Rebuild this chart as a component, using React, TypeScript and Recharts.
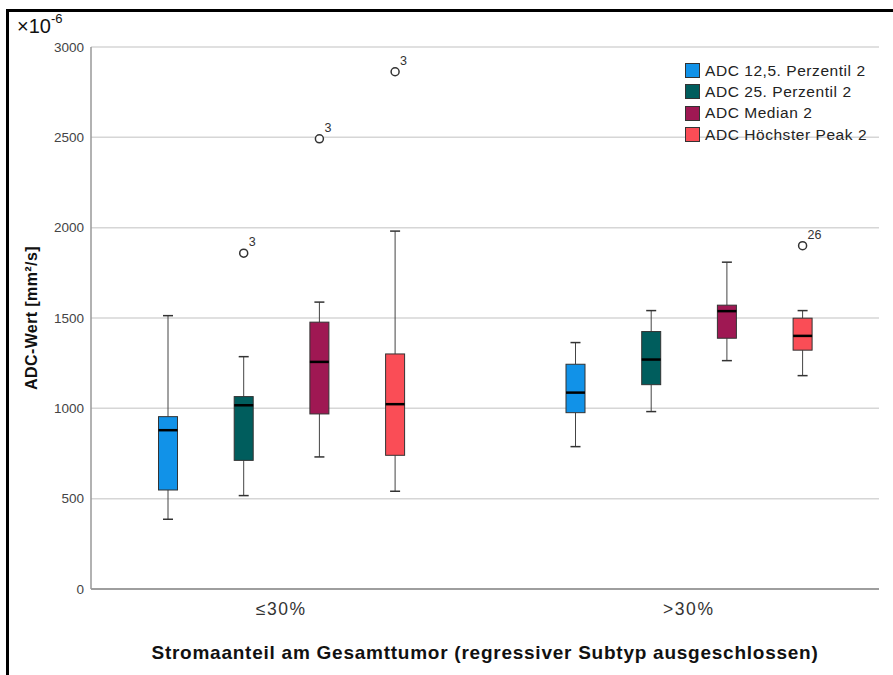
import { BarChart, Bar, XAxis, YAxis, CartesianGrid } from "recharts";

const categories = ["≤30%", ">30%"];
const seriesNames = [
  "ADC 12,5. Perzentil 2",
  "ADC 25. Perzentil 2",
  "ADC Median 2",
  "ADC Höchster Peak 2",
];
const seriesColors = ["#1192e8", "#005d5d", "#9f1853", "#fa4d56"];
const yTicks = [0, 500, 1000, 1500, 2000, 2500, 3000];

// one entry per series, each [≤30%, >30%]
const whiskerLow = [[386, 788], [517, 982], [731, 1264], [541, 1181]];
const q1 = [[548, 976], [712, 1131], [969, 1388], [740, 1322]];
const median = [[879, 1087], [1017, 1270], [1257, 1538], [1023, 1401]];
const q3 = [[954, 1244], [1065, 1425], [1477, 1571], [1301, 1499]];
const whiskerHigh = [[1513, 1364], [1286, 1541], [1588, 1809], [1981, 1541]];
const outlierValues = [[[], []], [[1859], []], [[2492], []], [[2863], [1900]]];
const outlierLabels = [[[], []], [["3"], []], [["3"], []], [["3"], ["26"]]];

const FONT = "'Liberation Sans', Arial, sans-serif";

const topOf = (s: number, c: number) =>
  Math.max(whiskerHigh[s][c], ...outlierValues[s][c]);

const data = categories.map((name, c) => {
  const row: Record<string, any> = { name };
  seriesNames.forEach((_, s) => {
    row[`s${s}`] = [whiskerLow[s][c], topOf(s, c)];
  });
  return row;
});

const boxShape = (s: number) => (props: any) => {
  const { x, y, width, height, index } = props;
  const lo = whiskerLow[s][index];
  const hi = topOf(s, index);
  const py = (v: number) => y + (height * (hi - v)) / (hi - lo);
  const cx = x + width / 2;
  const cap = 5;
  return (
    <g>
      <line x1={cx} x2={cx} y1={py(whiskerHigh[s][index])} y2={py(q3[s][index])} stroke="#444" />
      <line x1={cx} x2={cx} y1={py(q1[s][index])} y2={py(lo)} stroke="#444" />
      <line x1={cx - cap} x2={cx + cap} y1={py(whiskerHigh[s][index])} y2={py(whiskerHigh[s][index])} stroke="#333" strokeWidth={1.5} />
      <line x1={cx - cap} x2={cx + cap} y1={py(lo)} y2={py(lo)} stroke="#333" strokeWidth={1.5} />
      <rect
        x={x}
        y={py(q3[s][index])}
        width={width}
        height={py(q1[s][index]) - py(q3[s][index])}
        fill={seriesColors[s]}
        stroke="#333"
        strokeWidth={1}
      />
      <line x1={x} x2={x + width} y1={py(median[s][index])} y2={py(median[s][index])} stroke="#000" strokeWidth={2.5} />
      {outlierValues[s][index].map((v, k) => (
        <g key={k}>
          <circle cx={cx} cy={py(v)} r={4} fill="#fff" stroke="#333" strokeWidth={1.5} />
          <text x={cx + 5} y={py(v) - 7} fontSize={12.5} fill="#333" fontFamily={FONT}>
            {outlierLabels[s][index][k]}
          </text>
        </g>
      ))}
    </g>
  );
};

export default function App() {
  return (
    <div
      style={{
        position: "absolute",
        left: 0,
        top: 0,
        width: 893,
        height: 675,
        overflow: "hidden",
        background: "#fff",
        fontFamily: FONT,
      }}
    >
      <div
        style={{
          position: "absolute",
          left: 6,
          top: 9,
          width: 1000,
          height: 1000,
          borderLeft: "3px solid #000",
          borderTop: "3px solid #000",
        }}
      />
      <BarChart
        width={893}
        height={675}
        data={data}
        margin={{ top: 47, right: 14, bottom: 0, left: 0 }}
        barSize={19}
        barGap={56.7}
        style={{ position: "absolute", left: 0, top: 0 }}
      >
        <CartesianGrid vertical={false} stroke="#d6d6d6" strokeWidth={1.5} />
        <XAxis
          dataKey="name"
          height={86}
          padding={{ left: -13.5, right: -13.5 }}
          axisLine={{ stroke: "#888", strokeWidth: 1.5 }}
          tickLine={false}
          tickMargin={8}
          tick={{ fill: "#333", fontSize: 17.5, fontFamily: FONT, letterSpacing: 1.6 }}
          label={{
            value: "Stromaanteil am Gesamttumor (regressiver Subtyp ausgeschlossen)",
            position: "insideBottom",
            offset: 16,
            fill: "#111",
            fontSize: 19,
            fontWeight: "bold",
            fontFamily: FONT,
            letterSpacing: 0.75,
          }}
        />
        <YAxis
          width={91}
          domain={[0, 3000]}
          ticks={yTicks}
          axisLine={{ stroke: "#999", strokeWidth: 1.5 }}
          tickLine={false}
          tickSize={5}
          tickMargin={2}
          tick={{ fill: "#444", fontSize: 13.5, fontFamily: FONT }}
          label={{
            value: "ADC-Wert [mm²/s]",
            angle: -90,
            position: "insideLeft",
            offset: 31,
            fill: "#111",
            fontSize: 16,
            fontWeight: "bold",
            fontFamily: FONT,
            letterSpacing: 0.4,
            style: { textAnchor: "middle" },
          }}
        />
        {seriesNames.map((n, s) => (
          <Bar
            key={n}
            dataKey={`s${s}`}
            name={n}
            fill={seriesColors[s]}
            shape={boxShape(s)}
            isAnimationActive={false}
          />
        ))}
      </BarChart>
      <div style={{ position: "absolute", left: 17, top: 13, fontSize: 20, color: "#111" }}>
        ×10<sup style={{ fontSize: 13, position: "relative", top: -2 }}>-6</sup>
      </div>
      <div style={{ position: "absolute", left: 685, top: 60 }}>
        {seriesNames.map((n, s) => (
          <div key={n} style={{ display: "flex", alignItems: "center", height: 21.3 }}>
            <div
              style={{
                width: 15,
                height: 15,
                background: seriesColors[s],
                border: "1px solid #333",
                boxSizing: "border-box",
              }}
            />
            <span style={{ marginLeft: 5, fontSize: 15.5, color: "#222", letterSpacing: 0.55 }}>{n}</span>
          </div>
        ))}
      </div>
    </div>
  );
}
